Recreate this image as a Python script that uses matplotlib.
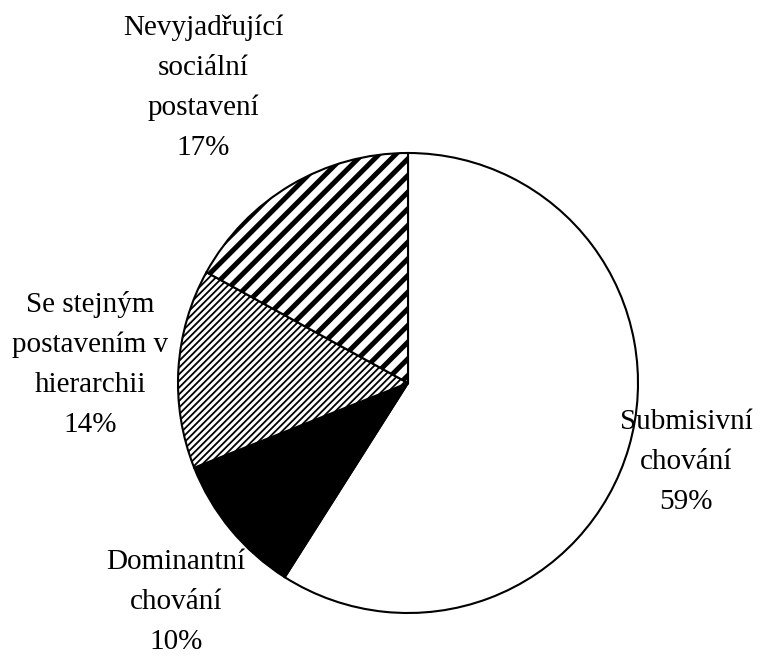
import matplotlib.pyplot as plt

# slice data (clockwise from top)
labels = ["Submisivní\nchování", "Dominantní\nchování",
          "Se stejným\npostavením v\nhierarchii", "Nevyjadřující\nsociální\npostavení"]
shares = [59, 10, 14, 17]
colors = ["white", "black", "white", "white"]
hatches = [None, None, "/////", "//"]
hatch_widths = [1.0, 1.0, 1.3, 3.6]

# label anchor points in pixels (x, center of first line)
label_pos = [(686, 422), (176, 562), (90, 305), (203, 28)]

W, H = 767, 656
fig = plt.figure(figsize=(W / 100, H / 100), dpi=100)
ax = fig.add_axes([0, 0, 1, 1])

plt.rcParams["hatch.linewidth"] = 3.6

wedges, _ = ax.pie(shares, colors=colors, startangle=90, counterclock=False,
                   center=(408, H - 383), radius=230, frame=True,
                   wedgeprops=dict(edgecolor="black", linewidth=1.5))
ax.set_xlim(0, W)
ax.set_ylim(0, H)
ax.axis("off")

for w, h, hw in zip(wedges, hatches, hatch_widths):
    if h:
        w.set_hatch(h)
        if hasattr(w, "set_hatch_linewidth"):
            w.set_hatch_linewidth(hw)

font = dict(family="Liberation Serif", size=21)
for lab, pct, (x, y) in zip(labels, shares, label_pos):
    lines = lab.split("\n") + [f"{pct}%"]
    for i, line in enumerate(lines):
        ax.text(x, H - (y + 40 * i), line, ha="center", va="center", **font)

fig.savefig("out.png", dpi=100)
